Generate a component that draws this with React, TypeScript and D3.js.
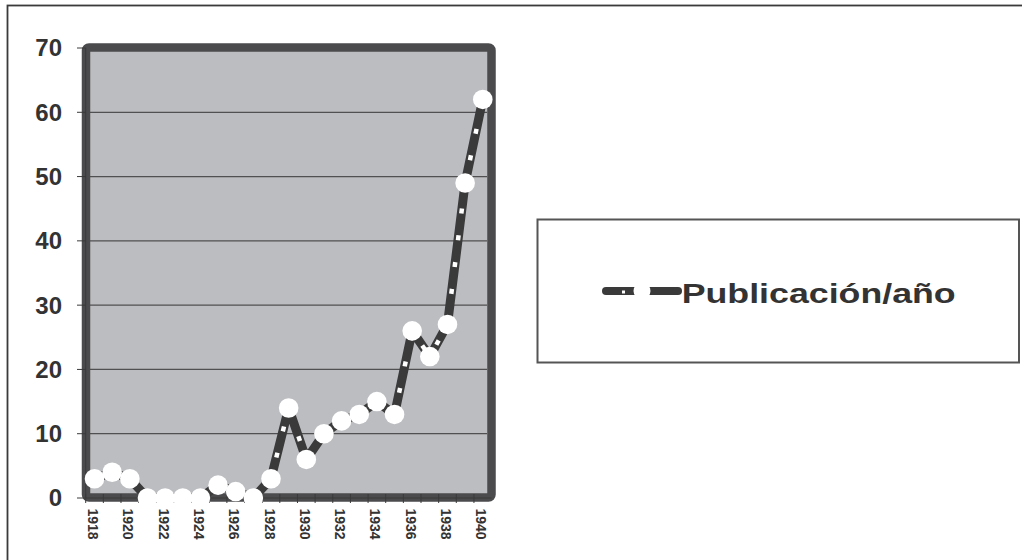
import React from "react";
import * as d3 from "d3";

const years: string[] = [
  "1918", "1919", "1920", "1921", "1922", "1923", "1924", "1925", "1926", "1927", "1928",
  "1929", "1930", "1931", "1932", "1933", "1934", "1935", "1936", "1937", "1938", "1939", "1940",
];
const publications: number[] = [3, 4, 3, 0, 0, 0, 0, 2, 1, 0, 3, 14, 6, 10, 12, 13, 15, 13, 26, 22, 27, 49, 62];
const yTicks: number[] = [0, 10, 20, 30, 40, 50, 60, 70];
const xLabels: string[] = ["1918", "1920", "1922", "1924", "1926", "1928", "1930", "1932", "1934", "1936", "1938", "1940"];
const seriesName = "Publicación/año";

const W = 1022;
const H = 560;
const FONT = "'Liberation Sans', Arial, sans-serif";

export default function App() {
  const x = d3.scaleBand<string>().domain(years).range([85.7, 491.6]).paddingInner(0).paddingOuter(0);
  const y = d3.scaleLinear().domain([0, 70]).range([498, 48]);
  const cx = (yr: string) => (x(yr) as number) + x.bandwidth() / 2;

  const line = d3
    .line<number>()
    .x((_, i) => cx(years[i]))
    .y((d) => y(d));
  const pathD = line(publications) || "";

  const plotLeft = 86;
  const plotRight = 491.5;
  const plotTop = 47.5;
  const plotBottom = 497.5;

  // legend line geometry
  const lgX1 = 606;
  const lgX2 = 678;
  const lgY = 291;

  return (
    <svg
      width={W}
      height={H}
      style={{ position: "absolute", left: 0, top: 0, background: "#fff" }}
      fontFamily={FONT}
    >
      {/* outer chart border */}
      <rect x={7.5} y={5.5} width={1200} height={700} fill="#fff" stroke="#3a3a3a" strokeWidth={1.8} />

      {/* plot area fill */}
      <rect x={plotLeft} y={plotTop} width={plotRight - plotLeft} height={plotBottom - plotTop} fill="#bcbdc1" />

      {/* horizontal gridlines */}
      {yTicks
        .filter((t) => t > 0 && t < 70)
        .map((t) => (
          <line key={`g${t}`} x1={90} x2={487} y1={y(t)} y2={y(t)} stroke="#505052" strokeWidth={1.3} />
        ))}

      {/* plot frame */}
      <rect
        x={plotLeft}
        y={plotTop}
        width={plotRight - plotLeft}
        height={plotBottom - plotTop}
        rx={3}
        fill="none"
        stroke="#4b4b4d"
        strokeWidth={8.5}
      />

      {/* y axis line and ticks */}
      <line x1={85.7} x2={85.7} y1={y(70)} y2={y(0)} stroke="#3a3a3a" strokeWidth={1} />
      {yTicks.map((t) => (
        <line key={`yt${t}`} x1={77} x2={85.7} y1={y(t)} y2={y(t)} stroke="#3a3a3a" strokeWidth={1} />
      ))}
      {yTicks.map((t) => (
        <text
          key={`yl${t}`}
          x={62}
          y={y(t)}
          dy="0.35em"
          textAnchor="end"
          fontSize={24}
          fontWeight="bold"
          fill="#333"
        >
          {t}
        </text>
      ))}

      {/* x axis line and category separators */}
      <line x1={85.7} x2={491.6} y1={y(0)} y2={y(0)} stroke="#3a3a3a" strokeWidth={1} />
      {years.map((yr) => (
        <line
          key={`xt${yr}`}
          x1={x(yr) as number}
          x2={x(yr) as number}
          y1={494}
          y2={503}
          stroke="#3a3a3a"
          strokeWidth={1}
        />
      ))}
      {xLabels.map((yr) => (
        <text
          key={`xl${yr}`}
          transform={`translate(${cx(yr) - 6.5},508.5) rotate(90)`}
          textAnchor="start"
          fontSize={14}
          fontWeight="bold"
          fill="#333"
        >
          {yr}
        </text>
      ))}

      {/* series line */}
      <path d={pathD} fill="none" stroke="#3a3a3a" strokeWidth={9} strokeLinejoin="round" strokeLinecap="round" />
      <path d={pathD} fill="none" stroke="#fff" strokeWidth={4.5} strokeDasharray="5 22" strokeDashoffset={-8} />

      {/* markers */}
      {publications.map((v, i) => (
        <circle key={`m${i}`} cx={cx(years[i])} cy={y(v)} r={9.8} fill="#fff" />
      ))}

      {/* legend */}
      <rect x={537.5} y={219.5} width={481.5} height={143} fill="#fff" stroke="#555" strokeWidth={2} />
      <line x1={lgX1} x2={lgX2} y1={lgY} y2={lgY} stroke="#3a3a3a" strokeWidth={8} strokeLinecap="round" />
      <line x1={lgX1 + 16} x2={lgX1 + 19} y1={lgY + 1} y2={lgY + 1} stroke="#fff" strokeWidth={3} />
      <circle cx={(lgX1 + lgX2) / 2} cy={lgY} r={8.5} fill="#fff" />
      <text
        x={681.7}
        y={302.5}
        fontSize={27}
        fontWeight="bold"
        fill="#333"
        textLength={274}
        lengthAdjust="spacingAndGlyphs"
      >
        {seriesName}
      </text>
    </svg>
  );
}
